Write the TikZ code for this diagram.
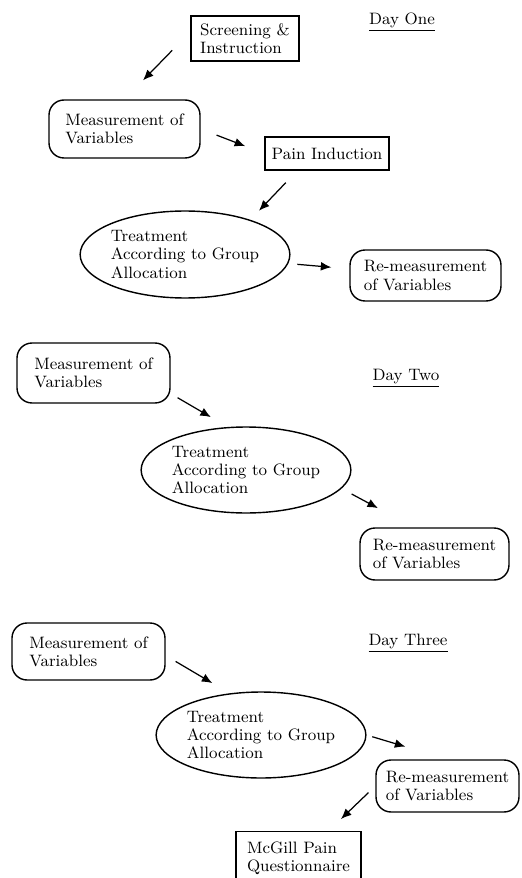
\documentclass[tikz,border=0pt]{standalone}
\usepackage{tikz}
\usetikzlibrary{shapes.geometric}
\usetikzlibrary{arrows.meta}
\tikzset{sqbox/.style={draw,line width=0.8pt,align=left,inner sep=0pt},
         rndbox/.style={draw,line width=0.8pt,rounded corners=0.3cm,align=left,inner sep=0pt},
         ovalbox/.style={draw,ellipse,line width=0.8pt,align=left,inner sep=0pt},
         daytag/.style={inner sep=0pt},
         flow/.style={->,line width=0.7pt}}
\tikzset{>={Latex[length=6pt,width=5pt]}}

\begin{document}
\begin{tikzpicture}[x=0.02cm,y=-0.02cm,font=\fontsize{9.4}{10.3}\selectfont]
\useasboundingbox (0,0) rectangle (521,878);
\node[sqbox,minimum width=2.16cm,minimum height=0.9cm] (scr1) at (245,38.5) {Screening \&\\Instruction};
\node[daytag] (day1) at (402,22) {\underline{Day One}};
\node[rndbox,minimum width=3.02cm,minimum height=1.16cm] (meas1) at (124.5,129) {Measurement of\\Variables};
\node[sqbox,minimum width=2.48cm,minimum height=0.66cm] (pain1) at (327,153.5) {Pain Induction};
\node[ovalbox,minimum width=4cm,minimum height=1.74cm] (treat1) at (185,254.5) {Treatment\\According to Group\\Allocation};
\node[rndbox,minimum width=3.02cm,minimum height=1.02cm] (rem1) at (425.5,275.5) {Re-measurement\\of Variables};
\draw[flow,shorten <=0.52cm,shorten >=0.53cm] (scr1.173) -- (meas1.north);
\draw[flow,shorten <=0.34cm,shorten >=0.41cm] (meas1.east) -- (pain1.west);
\draw[flow,shorten <=0.33cm,shorten >=0.25cm] (pain1.210) -- (treat1.28);
\draw[flow,shorten <=0.18cm,shorten >=0.36cm] (treat1.-5) -- (rem1.175);

\node[rndbox,minimum width=3.06cm,minimum height=1.2cm] (meas2) at (93.5,373) {Measurement of\\Variables};
\node[daytag] (day2) at (406,378) {\underline{Day Two}};
\node[ovalbox,minimum width=4.04cm,minimum height=1.72cm] (treat2) at (246,470) {Treatment\\According to Group\\Allocation};
\node[rndbox,minimum width=2.98cm,minimum height=1.04cm] (rem2) at (434.5,554) {Re-measurement\\of Variables};
\draw[flow,shorten <=0.16cm,shorten >=0.39cm] (meas2.-15) -- (treat2.113);
\draw[flow,shorten <=0.23cm,shorten >=0.81cm] (treat2.-11) -- (rem2.128);

\node[rndbox,minimum width=3.06cm,minimum height=1.14cm] (meas3) at (88.5,651.5) {Measurement of\\Variables};
\node[daytag] (day3) at (408,643) {\underline{Day Three}};
\node[ovalbox,minimum width=4cm,minimum height=1.72cm] (treat3) at (261,735) {Treatment\\According to Group\\Allocation};
\node[rndbox,minimum width=2.86cm,minimum height=1.04cm] (rem3) at (447.5,786) {Re-measurement\\of Variables};
\node[sqbox,minimum width=2.5cm,minimum height=1.06cm] (mcg3) at (298.5,858) {McGill Pain\\Questionnaire};
\draw[flow,shorten <=0.23cm,shorten >=0.40cm] (meas3.-3) -- (treat3.127);
\draw[flow,shorten <=0.12cm,shorten >=0.88cm] (treat3.east) -- (rem3.north);
\draw[flow,shorten <=0.19cm,shorten >=0.34cm] (rem3.west) -- (mcg3.42);
\end{tikzpicture}
\end{document}
